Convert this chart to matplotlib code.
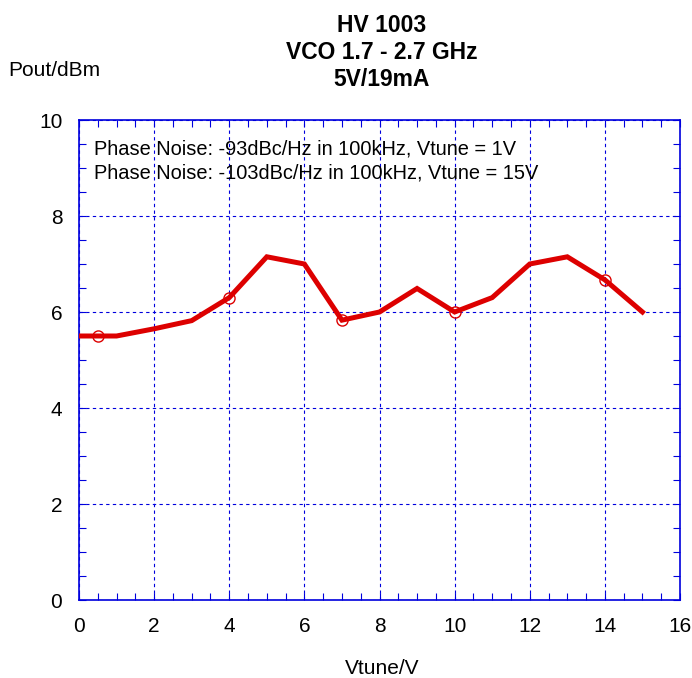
import matplotlib
matplotlib.use('Agg')
import matplotlib.pyplot as plt
from matplotlib.ticker import MultipleLocator

plt.rcParams['font.family'] = ['Liberation Sans', 'DejaVu Sans']

vtune = [0, 1, 2, 3, 4, 5, 6, 7, 8, 9, 10, 11, 12, 13, 14, 15]
pout = [5.5, 5.5, 5.65, 5.82, 6.3, 7.15, 7.0, 5.83, 6.0, 6.49, 6.0, 6.3, 7.0, 7.15, 6.67, 6.0]

# measured points marked with circles
mark_x = [0.5, 4, 7, 10, 14]
mark_y = [5.5, 6.3, 5.83, 6.0, 6.67]

title_lines = ['HV 1003', 'VCO 1.7 - 2.7 GHz', '5V/19mA']
notes = ['Phase Noise: -93dBc/Hz in 100kHz, Vtune = 1V',
         'Phase Noise: -103dBc/Hz in 100kHz, Vtune = 15V']

red = '#dd0000'
blue = '#0000dd'

fig = plt.figure(figsize=(6.92, 6.78), dpi=100)
ax = fig.add_axes([79 / 692, 78 / 678, 601 / 692, 480 / 678])

ax.plot(vtune, pout, color=red, lw=3.6, solid_joinstyle='miter', zorder=3)
ax.plot(mark_x, mark_y, 'o', mfc='none', mec=red, ms=8, mew=1.0, zorder=4)

ax.set_xlim(0, 16)
ax.set_ylim(0, 10)
ax.xaxis.set_major_locator(MultipleLocator(2))
ax.xaxis.set_minor_locator(MultipleLocator(0.5))
ax.yaxis.set_major_locator(MultipleLocator(2))
ax.yaxis.set_minor_locator(MultipleLocator(0.5))
ax.tick_params(which='both', direction='in', top=True, right=True, color=blue,
               labelsize=15, labelcolor='black')
ax.tick_params(which='major', length=5, width=0.8)
ax.tick_params(axis='x', which='major', pad=12)
ax.tick_params(axis='y', which='major', pad=12)
ax.tick_params(which='minor', length=5, width=0.8)

ax.grid(True, which='major', color=blue, ls=(0, (3, 3)), lw=0.8)
for s in ax.spines.values():
    s.set_color(blue)
    s.set_linewidth(1.2)

for i, t in enumerate(notes):
    ax.text(0.4, 9.4 - i * 0.5, t, fontsize=14.4, va='center', ha='left')

title_y = [25, 52.5, 80]
for t, yy in zip(title_lines, title_y):
    fig.text(382 / 692, 1 - yy / 678, t, fontsize=16.5, weight='bold', ha='center', va='center')

fig.text(8 / 692, 1 - 70 / 678, 'Pout/dBm', fontsize=15, ha='left', va='center')
fig.text(382 / 692, 1 - 668 / 678, 'Vtune/V', fontsize=15, ha='center', va='center')

fig.savefig('out.png', dpi=100)
